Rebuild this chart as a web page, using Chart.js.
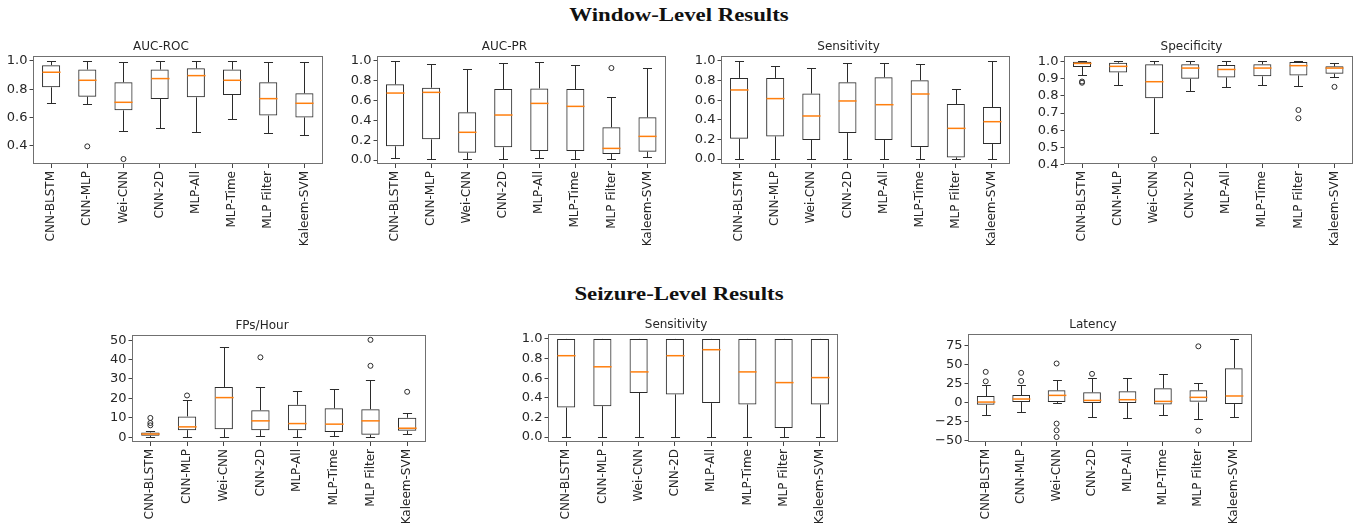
<!DOCTYPE html>
<html>
<head>
<meta charset="utf-8">
<title>Window-Level and Seizure-Level Results</title>
<script src="https://cdn.jsdelivr.net/npm/chart.js@4.4.0/dist/chart.umd.min.js"></script>
<style>
  html, body { margin: 0; padding: 0; background: #fff; }
  #page { position: relative; width: 1358px; height: 527px; overflow: hidden; background: #fff; }
  .sup {
    position: absolute;
    font-family: "Liberation Serif", serif;
    font-weight: bold;
    font-size: 19px;
    color: #111;
    white-space: nowrap;
    transform: translate(-50%, -50%) scaleX(1.2);
  }
  canvas { position: absolute; }
</style>
</head>
<body>
<div id="page">
  <div class="sup" style="left:679px; top:15px;">Window-Level Results</div>
  <div class="sup" style="left:679px; top:294px;">Seizure-Level Results</div>
</div>
<script>
// ---- models compared in every panel ----
const models = ['CNN-BLSTM', 'CNN-MLP', 'Wei-CNN', 'CNN-2D', 'MLP-All', 'MLP-Time', 'MLP Filter', 'Kaleem-SVM'];

// ---- Window-level AUC-ROC ----
const rocLow  = [0.700, 0.695, 0.505, 0.525, 0.500, 0.590, 0.490, 0.475];
const rocQ1   = [0.813, 0.747, 0.650, 0.731, 0.742, 0.759, 0.613, 0.600];
const rocMed  = [0.920, 0.863, 0.707, 0.875, 0.896, 0.863, 0.733, 0.700];
const rocQ3   = [0.970, 0.939, 0.849, 0.939, 0.948, 0.939, 0.849, 0.771];
const rocHigh = [1.000, 1.000, 0.993, 1.000, 1.000, 1.000, 0.993, 0.993];
const rocOut  = [[], [0.395], [0.305], [], [], [], [], []];
const rocTicks = [0.4, 0.6, 0.8, 1.0];
const rocTickLabels = ['0.4', '0.6', '0.8', '1.0'];

// ---- Window-level AUC-PR ----
const prLow  = [0.017, 0.010, 0.010, 0.010, 0.020, 0.010, 0.010, 0.027];
const prQ1   = [0.138, 0.208, 0.074, 0.128, 0.091, 0.091, 0.060, 0.084];
const prMed  = [0.674, 0.681, 0.279, 0.453, 0.570, 0.540, 0.117, 0.238];
const prQ3   = [0.762, 0.728, 0.480, 0.715, 0.721, 0.715, 0.329, 0.430];
const prHigh = [0.993, 0.970, 0.916, 0.977, 0.983, 0.956, 0.638, 0.930];
const prOut  = [[], [], [], [], [], [], [0.926], []];
const unitTicks = [0, 0.2, 0.4, 0.6, 0.8, 1.0];
const unitTickLabels = ['0.0', '0.2', '0.4', '0.6', '0.8', '1.0'];

// ---- Window-level Sensitivity ----
const wsLow  = [0, 0, 0, 0, 0, 0, 0.005, 0];
const wsQ1   = [0.207, 0.231, 0.194, 0.265, 0.194, 0.122, 0.017, 0.153];
const wsMed  = [0.704, 0.616, 0.439, 0.592, 0.554, 0.663, 0.313, 0.381];
const wsQ3   = [0.827, 0.827, 0.667, 0.782, 0.833, 0.803, 0.561, 0.531];
const wsHigh = [1.000, 0.946, 0.929, 0.983, 0.983, 0.969, 0.711, 1.000];
const wsOut  = [[], [], [], [], [], [], [], []];

// ---- Window-level Specificity ----
const spLow  = [0.922, 0.864, 0.583, 0.827, 0.854, 0.864, 0.858, 0.907];
const spQ1   = [0.967, 0.936, 0.786, 0.899, 0.907, 0.913, 0.918, 0.928];
const spMed  = [0.988, 0.971, 0.882, 0.961, 0.953, 0.961, 0.975, 0.961];
const spQ3   = [0.998, 0.992, 0.983, 0.983, 0.979, 0.983, 0.996, 0.971];
const spHigh = [1.000, 1.000, 1.000, 1.000, 1.000, 1.000, 1.000, 0.988];
const spOut  = [[0.883, 0.876], [], [0.433], [], [], [], [0.718, 0.670], [0.852]];
const spTicks = [0.4, 0.5, 0.6, 0.7, 0.8, 0.9, 1.0];
const spTickLabels = ['0.4', '0.5', '0.6', '0.7', '0.8', '0.9', '1.0'];

// ---- Seizure-level FPs/Hour ----
const fpLow  = [0, 0, 0, 0.5, 0, 0.7, 0, 1.4];
const fpQ1   = [0.7, 3.6, 4.1, 3.6, 3.6, 2.7, 1.2, 3.3];
const fpMed  = [1.6, 5.3, 20.4, 8.4, 7.0, 6.7, 8.4, 4.6];
const fpQ3   = [2.4, 10.7, 25.9, 13.9, 16.7, 14.9, 14.4, 10.0];
const fpHigh = [3.1, 19.4, 46.6, 25.9, 23.9, 24.9, 29.7, 12.2];
const fpOut  = [[9.9, 7.3, 6.1], [21.5], [], [41.2], [], [], [50.2, 36.8], [23.4]];
const fpTicks = [0, 10, 20, 30, 40, 50];
const fpTickLabels = ['0', '10', '20', '30', '40', '50'];

// ---- Seizure-level Sensitivity ----
const ssLow  = [0, 0, 0, 0, 0, 0, 0, 0];
const ssQ1   = [0.301, 0.315, 0.449, 0.435, 0.346, 0.332, 0.092, 0.332];
const ssMed  = [0.829, 0.716, 0.664, 0.829, 0.890, 0.664, 0.555, 0.606];
const ssQ3   = [1, 1, 1, 1, 1, 1, 1, 1];
const ssHigh = [1, 1, 1, 1, 1, 1, 1, 1];
const ssOut  = [[], [], [], [], [], [], [], []];

// ---- Seizure-level Latency ----
const latLow  = [-17.2, -12.4, -0.9, -19.1, -20.8, -16.9, -21.7, -19.1];
const latQ1   = [-3.1, 0.4, 0.4, -0.9, -0.9, -2.7, 0.0, -2.2];
const latMed  = [0.4, 4.4, 9.2, 2.6, 3.5, 1.3, 6.6, 8.4];
const latQ3   = [8.4, 9.6, 15.8, 13.2, 14.5, 18.5, 15.8, 45.0];
const latHigh = [22.6, 22.6, 29.5, 32.6, 31.7, 37.0, 25.5, 83.4];
const latOut  = [[27.7, 40.1], [28.2, 38.8], [51.1, -27.9, -36.7, -45.6], [37.5], [], [], [73.7, -37.2], []];
const latTicks = [-50, -25, 0, 25, 50, 75];
const latTickLabels = ['\u221250', '\u221225', '0', '25', '50', '75'];

// ---- panel layout: plot frame [left, top, right, bottom] and y range ----
const panels = [
  { title: 'AUC-ROC',     frame: [33, 56, 323, 164],    yRange: [0.27, 1.035],  ticks: rocTicks,  tickLabels: rocTickLabels,  s: [rocLow, rocQ1, rocMed, rocQ3, rocHigh, rocOut] },
  { title: 'AUC-PR',      frame: [377, 56, 666, 164],   yRange: [-0.04, 1.047], ticks: unitTicks, tickLabels: unitTickLabels, s: [prLow, prQ1, prMed, prQ3, prHigh, prOut] },
  { title: 'Sensitivity', frame: [721, 56, 1010, 164],  yRange: [-0.05, 1.05],  ticks: unitTicks, tickLabels: unitTickLabels, s: [wsLow, wsQ1, wsMed, wsQ3, wsHigh, wsOut] },
  { title: 'Specificity', frame: [1064, 56, 1353, 164], yRange: [0.405, 1.031], ticks: spTicks,   tickLabels: spTickLabels,   s: [spLow, spQ1, spMed, spQ3, spHigh, spOut] },
  { title: 'FPs/Hour',    frame: [132, 335, 426, 442],  yRange: [-2.51, 52.7],  ticks: fpTicks,   tickLabels: fpTickLabels,   s: [fpLow, fpQ1, fpMed, fpQ3, fpHigh, fpOut] },
  { title: 'Sensitivity', frame: [548, 334, 838, 442],  yRange: [-0.05, 1.05],  ticks: unitTicks, tickLabels: unitTickLabels, s: [ssLow, ssQ1, ssMed, ssQ3, ssHigh, ssOut] },
  { title: 'Latency',     frame: [968, 334, 1252, 442], yRange: [-52.1, 89.9],  ticks: latTicks,  tickLabels: latTickLabels,  s: [latLow, latQ1, latMed, latQ3, latHigh, latOut] }
];

const INK = '#2b2b2b';
const FRAME = '#707070';
const MEDIAN = '#ff7f0e';

Chart.defaults.font.family = '"DejaVu Sans", sans-serif';
Chart.defaults.color = '#262626';

// whiskers, caps, medians and the axes frame, drawn through the chart's own scales
const boxDecor = {
  id: 'boxDecor',
  afterDatasetsDraw(chart, args, opts) {
    const [lo, q1, med, q3, hi] = opts.stats;
    const xs = chart.scales.x, ys = chart.scales.y, ctx = chart.ctx;
    const bars = chart.getDatasetMeta(0).data;
    ctx.save();
    const snap = v => Math.round(v) + 0.5;
    const seg = (x1, y1, x2, y2) => { ctx.beginPath(); ctx.moveTo(x1, y1); ctx.lineTo(x2, y2); ctx.stroke(); };
    models.forEach((m, i) => {
      const cx = snap(xs.getPixelForValue(i));
      const half = bars[i].width / 2;
      const cap = half / 2;
      const yLo = snap(ys.getPixelForValue(lo[i]));
      const yQ1 = ys.getPixelForValue(q1[i]);
      const yQ3 = ys.getPixelForValue(q3[i]);
      const yHi = snap(ys.getPixelForValue(hi[i]));
      ctx.strokeStyle = INK;
      ctx.lineWidth = 1;
      seg(cx, yQ1, cx, yLo);
      seg(cx, yQ3, cx, yHi);
      seg(cx - cap, yLo, cx + cap, yLo);
      seg(cx - cap, yHi, cx + cap, yHi);
      ctx.strokeStyle = MEDIAN;
      ctx.lineWidth = 1.5;
      const yMed = ys.getPixelForValue(med[i]);
      seg(cx - half, yMed, cx + half, yMed);
    });
    const a = chart.chartArea;
    ctx.strokeStyle = FRAME;
    ctx.lineWidth = 1;
    ctx.strokeRect(Math.round(a.left) + 0.5, Math.round(a.top) + 0.5,
                   Math.round(a.right - a.left) - 1, Math.round(a.bottom - a.top) - 1);
    ctx.restore();
  }
};

const page = document.getElementById('page');
const PAD_L = 34, PAD_T = 16, PAD_R = 3, PAD_B = 92;

panels.forEach(p => {
  const [x0, y0, x1, y1] = p.frame;
  const [lo, q1, med, q3, hi, out] = p.s;
  const w = x1 - x0 + PAD_L + PAD_R;
  const h = y1 - y0 + PAD_T + PAD_B;
  const cv = document.createElement('canvas');
  cv.width = w; cv.height = h;
  cv.style.width = w + 'px'; cv.style.height = h + 'px';
  cv.style.left = (x0 - PAD_L) + 'px';
  cv.style.top = (y0 - PAD_T) + 'px';
  page.appendChild(cv);

  const fliers = [];
  out.forEach((vals, i) => vals.forEach(v => fliers.push({ x: models[i], y: v })));

  new Chart(cv, {
    type: 'bar',
    data: {
      labels: models,
      datasets: [
        {
          type: 'bar',
          data: models.map((m, i) => [q1[i], q3[i]]),
          backgroundColor: 'rgba(255,255,255,0)',
          borderColor: INK,
          borderWidth: 1,
          borderSkipped: false,
          barPercentage: 0.5,
          categoryPercentage: 1,
          grouped: false
        },
        {
          type: 'line',
          data: fliers,
          showLine: false,
          pointStyle: 'circle',
          pointRadius: 2.5,
          pointBorderWidth: 1,
          pointBorderColor: INK,
          pointBackgroundColor: 'rgba(255,255,255,0)',
          pointHoverRadius: 2.5
        }
      ]
    },
    options: {
      responsive: false,
      animation: false,
      events: [],
      layout: { padding: { left: 0, top: 0, right: PAD_R, bottom: 0 } },
      plugins: {
        legend: { display: false },
        tooltip: { enabled: false },
        title: {
          display: true,
          text: p.title,
          color: '#262626',
          font: { size: 12, weight: 'normal', lineHeight: 1.2 },
          padding: { top: 0, bottom: PAD_T - 14.4 }
        },
        boxDecor: { stats: [lo, q1, med, q3, hi] }
      },
      scales: {
        x: {
          type: 'category',
          offset: true,
          grid: { display: true, offset: false, drawOnChartArea: false, drawTicks: true, tickLength: 4, color: '#444', tickWidth: 1 },
          border: { display: false },
          ticks: { autoSkip: false, minRotation: 90, maxRotation: 90, padding: 3, font: { size: 12 }, color: '#262626' },
          afterFit(scale) { scale.height = PAD_B; }
        },
        y: {
          type: 'linear',
          min: p.yRange[0],
          max: p.yRange[1],
          grid: { display: true, drawOnChartArea: false, drawTicks: true, tickLength: 3.5, color: '#444', tickWidth: 1 },
          border: { display: false },
          afterBuildTicks(scale) { scale.ticks = p.ticks.map(v => ({ value: v })); },
          ticks: {
            autoSkip: false,
            padding: 2,
            font: { size: 13 },
            color: '#262626',
            callback: (v, i) => p.tickLabels[i]
          },
          afterFit(scale) { scale.width = PAD_L; }
        }
      }
    },
    plugins: [boxDecor]
  });
});
</script>
</body>
</html>
